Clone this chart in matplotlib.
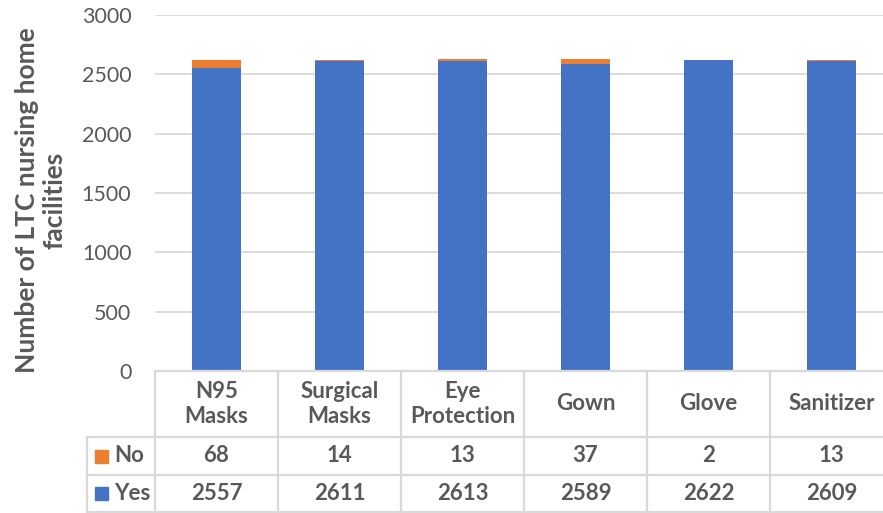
import matplotlib
matplotlib.use("Agg")
import matplotlib.pyplot as plt
import numpy as np

categories = ["N95\nMasks", "Surgical\nMasks", "Eye\nProtection", "Gown", "Glove", "Sanitizer"]
yes_vals = [2557, 2611, 2613, 2589, 2622, 2609]
no_vals = [68, 14, 13, 37, 2, 13]
series_names = ["No", "Yes"]
yticks = [0, 500, 1000, 1500, 2000, 2500, 3000]

BLUE = "#4472C4"
ORANGE = "#ED7D31"
GREY = "#595959"
GRID = "#D9D9D9"
FONT = "Lato"

W, H = 883, 513
fig = plt.figure(figsize=(W / 100, H / 100), dpi=100)
L, R, T, B = 155, 893, 15, 371
ax = fig.add_axes([L / W, 1 - B / H, (R - L) / W, (B - T) / H])
x = np.arange(len(categories))
ax.bar(x, yes_vals, width=0.4, color=BLUE, zorder=3)
ax.bar(x, no_vals, width=0.4, bottom=yes_vals, color=ORANGE, zorder=3)
ax.set_xlim(-0.5, len(categories) - 0.5)
ax.set_ylim(0, 3000)
ax.set_yticks(yticks)
ax.set_yticklabels([str(v) for v in yticks], fontsize=15.5, color=GREY, family=FONT)
ax.set_xticks([])
ax.tick_params(axis="y", length=0, pad=17)
ax.grid(axis="y", color=GRID, lw=1.3, zorder=0)
for s in ax.spines.values():
    s.set_visible(False)

fig.text(41 / W, 1 - 200 / H, "Number of LTC nursing home\nfacilities", rotation=90,
         ha="center", va="center", multialignment="center", fontsize=19,
         fontweight="bold", color=GREY, family=FONT, linespacing=1.15)

# data table
th = H - B
tax = fig.add_axes([L / W, 0, (R - L) / W, th / H])
tax.set_xlim(-0.5, len(categories) - 0.5)
tax.set_ylim(th, 0)
tax.axis("off")
unit = (R - L) / len(categories)
xl = -0.5 - (L - 87) / unit
rows = [0, 66, 104, th - 1]
lk = dict(color=GRID, lw=1.6, clip_on=False)
tax.plot([-0.5, len(categories) - 0.5], [rows[0], rows[0]], **lk)
for r in rows[1:]:
    tax.plot([xl, len(categories) - 0.5], [r, r], **lk)
for k in range(len(categories) + 1):
    tax.plot([k - 0.5, k - 0.5], [rows[0], rows[3]], **lk)
tax.plot([xl, xl], [rows[1], rows[3]], **lk)

TS = 16
for i, c in enumerate(categories):
    tax.text(i, (rows[0] + rows[1]) / 2, c, ha="center", va="center", fontsize=TS,
             fontweight="bold", color=GREY, family=FONT, linespacing=1.2)
    tax.text(i, (rows[1] + rows[2]) / 2, str(no_vals[i]), ha="center", va="center",
             fontsize=TS, fontweight="bold", color=GREY, family=FONT)
    tax.text(i, (rows[2] + rows[3]) / 2, str(yes_vals[i]), ha="center", va="center",
             fontsize=TS, fontweight="bold", color=GREY, family=FONT)

sq = 13 / unit
for name, col, (r0, r1) in zip(series_names, [ORANGE, BLUE], [(rows[1], rows[2]), (rows[2], rows[3])]):
    yc = (r0 + r1) / 2
    x0 = xl + (95 - 87) / unit
    tax.add_patch(plt.Rectangle((x0, yc - 6.5), sq, 13, color=col, clip_on=False))
    tax.text(xl + (114 - 87) / unit, yc, name, ha="left", va="center", fontsize=TS,
             fontweight="bold", color=GREY, family=FONT)

fig.savefig("out.png", dpi=100)
